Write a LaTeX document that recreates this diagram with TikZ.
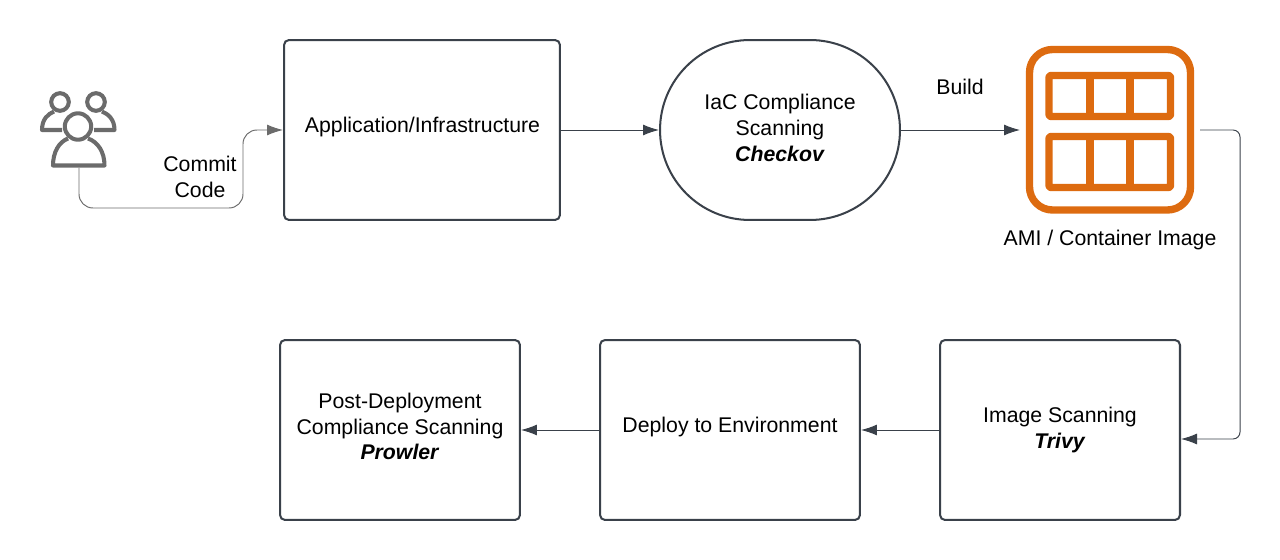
\documentclass[tikz,border=0pt]{standalone}
\usepackage{fontspec}
\setmainfont{Liberation Sans}
\usepackage{xcolor}
\usetikzlibrary{arrows.meta}

\definecolor{boxline}{HTML}{3A414A}
\definecolor{usergray}{HTML}{6B6B6B}
\definecolor{imgorange}{HTML}{DD6B10}

\tikzset{
  box/.style={draw=boxline, line width=1.15pt, rounded corners=0.1cm, inner sep=0pt},
  txt/.style={align=center, font=\fontsize{12.1}{14.6}\selectfont, inner sep=0pt},
  link/.style={draw=boxline, line width=0.55pt, rounded corners=0.2cm, -{Latex[length=0.32cm,width=0.22cm]}},
  userlink/.style={link, draw=usergray, rounded corners=0.28cm},
  userline/.style={draw=usergray, line width=2.3pt, line join=round},
  imgline/.style={draw=imgorange, line width=4.2pt, line join=round}
}

\begin{document}
\begin{tikzpicture}[x=0.02cm, y=-0.02cm]
\useasboundingbox (0,0) rectangle (1280,560);

% Gruppo di utenti
\draw[userline] (60,102) circle (8.8);
\draw[userline] (96,102) circle (8.8);
\draw[userline] (62,130) -- (42,130) .. controls (42,119) and (48,114) .. (54,111.5);
\draw[userline] (94,130) -- (114.5,130) .. controls (114.5,119) and (108,114) .. (102,111.5);
\draw[userline, fill=white] (78,126.5) circle (13.2);
\draw[userline] (68,138.5) .. controls (59,142) and (53,152) .. (53,165.5) -- (104.5,165.5) .. controls (104.5,152) and (98,142) .. (88,138.5);
\coordinate (users) at (79,168);

% Blocchi
\node[box, minimum width=5.52cm, minimum height=3.6cm] (app) at (422,130) {};
\node[txt] (apptext) at (422.5,127) {Application/Infrastructure};
\node[box, minimum width=4.8cm, minimum height=3.6cm, rounded corners=1.8cm] (iac) at (780,130) {};
\node[txt] (iactext) at (780,128) {IaC Compliance\\Scanning\\\textbf{\textit{Checkov}}};
\node[box, minimum width=4.8cm, minimum height=3.6cm] (scan) at (1060,430) {};
\node[txt] (scantext) at (1060,430) {Image Scanning\\\textbf{\textit{Trivy}}};
\node[box, minimum width=5.2cm, minimum height=3.6cm] (deploy) at (730,430) {};
\node[txt] (deploytext) at (730,427) {Deploy to Environment};
\node[box, minimum width=4.8cm, minimum height=3.6cm] (post) at (400,430) {};
\node[txt] (posttext) at (400,426.5) {Post-Deployment\\Compliance Scanning\\\textbf{\textit{Prowler}}};

% Icona dell'immagine
\draw[imgline, rounded corners=0.46cm] (1029.5,49.5) rectangle (1190.5,210);
\draw[imgline, rounded corners=0.04cm] (1049,75.5) rectangle (1170.5,116.5);
\draw[imgline, rounded corners=0.04cm] (1049,136.5) rectangle (1170.5,187.5);
\foreach \xbar in {1090,1130} {
  \draw[imgline] (\xbar,75.5) -- (\xbar,116.5);
  \draw[imgline] (\xbar,136.5) -- (\xbar,187.5);
}
\coordinate (imgin) at (1020,130);
\coordinate (imgout) at (1200,130);
\coordinate (commitbend) at (243,208);
\coordinate (scanbend) at (1240,130);

% Collegamenti
\draw[userlink] (users) |- (commitbend) |- (app.west);
\draw[link] (app.east) -- (iac.west);
\draw[link] (iac.east) -- (imgin);
\draw[link, rounded corners=0.14cm] (imgout) -- (scanbend) |- ([yshift=-0.18cm]scan.east);
\draw[link] (scan.west) -- (deploy.east);
\draw[link] (deploy.west) -- (post.east);

% Etichette
\node[txt] (commit) at (200,177) {Commit\\Code};
\node[txt] (build) at (960,87) {Build};
\node[txt] (imglabel) at (1110,240.5) {AMI / Container Image};

\end{tikzpicture}
\end{document}
